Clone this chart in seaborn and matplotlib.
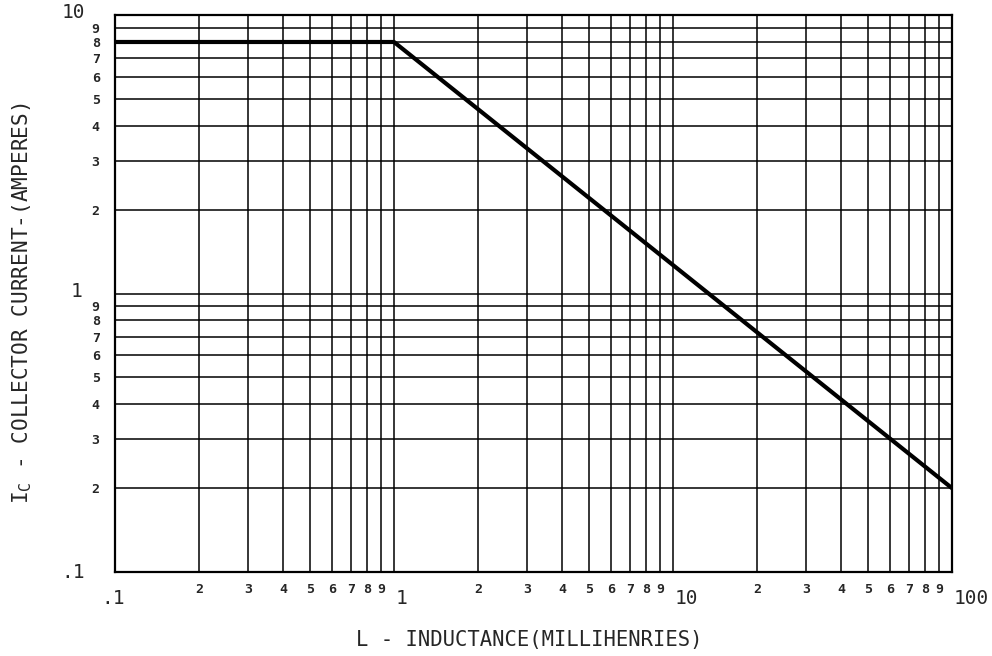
import matplotlib
matplotlib.use("Agg")
import matplotlib.pyplot as plt
import matplotlib.transforms as mtransforms
import seaborn as sns
import pandas as pd
import numpy as np

# Data
inductance_mh = [0.1, 1.0, 100.0]
collector_current_a = [8.0, 8.0, 0.2]

x_major = [0.1, 1, 10, 100]
x_major_labels = [".1", "1", "10", "100"]
y_major = [0.1, 1, 10]
y_major_labels = [".1", "1", "10"]
minor_digits = ["2", "3", "4", "5", "6", "7", "8", "9"]

sns.set_style("white")
plt.rcParams["font.family"] = ["DejaVu Sans Mono", "DejaVu Sans"]
plt.rcParams["mathtext.fontset"] = "custom"
plt.rcParams["mathtext.rm"] = "DejaVu Sans Mono"

fig = plt.figure(figsize=(9.92, 6.56), dpi=100)
W, H = 992, 656
ax = fig.add_axes([115 / W, 1 - 572 / H, (952 - 115) / W, (572 - 15) / H])

df = pd.DataFrame({"L": inductance_mh, "I": collector_current_a})
sns.lineplot(data=df, x="L", y="I", ax=ax, color="black", linewidth=3.0, zorder=5)

ax.set_xscale("log")
ax.set_yscale("log")
ax.set_xlim(0.1, 100)
ax.set_ylim(0.1, 10)

# minor ticks / labels
x_minor = [d * int(m) for d in [0.1, 1, 10] for m in minor_digits]
x_minor_labels = [m for d in [0.1, 1, 10] for m in minor_digits]
y_minor = [d * int(m) for d in [0.1, 1] for m in minor_digits]
y_minor_labels = [m for d in [0.1, 1] for m in minor_digits]

ax.set_xticks(x_major)
ax.set_xticklabels([""] * len(x_major))
ax.set_yticks(y_major)
ax.set_yticklabels([""] * len(y_major))
ax.set_xticks(x_minor, minor=True)
ax.set_xticklabels(x_minor_labels, minor=True, fontsize=9.5, fontweight="bold")
ax.set_yticks(y_minor, minor=True)
ax.set_yticklabels(y_minor_labels, minor=True, fontsize=9.5, fontweight="bold")

ax.tick_params(which="both", length=0)
ax.tick_params(axis="x", which="minor", pad=8)
ax.tick_params(axis="y", which="minor", pad=11)

ax.grid(True, which="both", color="black", linewidth=1.1)
for s in ax.spines.values():
    s.set_color("black")
    s.set_linewidth(1.6)

# major labels drawn as text with offsets
for v, lab in zip(x_major, x_major_labels):
    if lab == ".1":
        off = mtransforms.ScaledTranslation(-2 / 100, -26 / 100, fig.dpi_scale_trans)
        ax.text(v, 0, lab, transform=ax.get_xaxis_transform() + off,
                ha="center", va="center", fontsize=14)
    else:
        off = mtransforms.ScaledTranslation(2 / 100, -26 / 100, fig.dpi_scale_trans)
        ax.text(v, 0, lab, transform=ax.get_xaxis_transform() + off,
                ha="left", va="center", fontsize=14)

for v, lab in zip(y_major, y_major_labels):
    dy = 2 if lab == "10" else (0 if lab == ".1" else 2)
    dx = 33 if lab == "1" else 30
    off = mtransforms.ScaledTranslation(-dx / 100, dy / 100, fig.dpi_scale_trans)
    ax.text(0, v, lab, transform=ax.get_yaxis_transform() + off,
            ha="right", va="center", fontsize=14)

fig.text(22 / W, 1 - 303 / H, r"I$_\mathregular{C}$ - COLLECTOR CURRENT-(AMPERES)",
         rotation=90, ha="center", va="center", fontsize=15.2)
fig.text(529 / W, 1 - 640 / H, "L - INDUCTANCE(MILLIHENRIES)",
         ha="center", va="center", fontsize=14.8)

ax.set_xlabel("")
ax.set_ylabel("")

fig.savefig("out.png", dpi=100, facecolor="white")
